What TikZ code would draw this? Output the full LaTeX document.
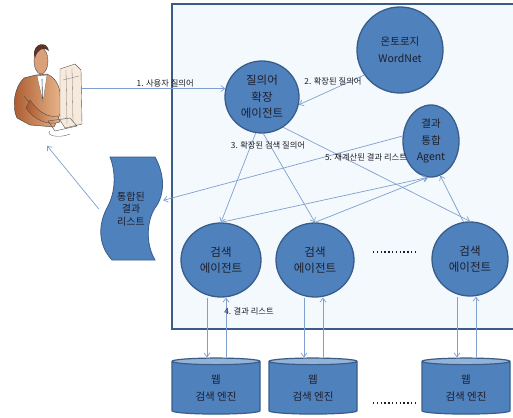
\documentclass[tikz,border=0pt]{standalone}
\usepackage{fontspec}
\setmainfont{Noto Sans CJK KR}
\usepackage{tikz}
\usetikzlibrary{arrows.meta,positioning,shapes.geometric,shapes.symbols}

\definecolor{agentfill}{HTML}{4F81BD}
\definecolor{agentline}{HTML}{385D8A}
\definecolor{endfill}{HTML}{95B3D7}
\definecolor{linkblue}{HTML}{7F9FD0}
\definecolor{panelfill}{HTML}{F4F9FD}
\definecolor{panelline}{HTML}{3B5C87}
\definecolor{jacket}{HTML}{A9582B}
\definecolor{jacketlight}{HTML}{E8B48A}
\definecolor{skin}{HTML}{D9A07A}
\definecolor{hair}{HTML}{5A3426}
\definecolor{screen}{HTML}{F7EADC}
\definecolor{ink}{HTML}{1E1E28}

\tikzset{
  agent/.style={ellipse, draw=agentline, fill=agentfill, line width=1.3pt,
    inner sep=0pt, align=center, text=ink,
    font=\fontsize{11.5}{16.5}\selectfont},
  websearch/.style={cylinder, shape border rotate=90, aspect=0.16,
    minimum width=88pt, minimum height=56pt, inner sep=0pt,
    cylinder uses custom fill, cylinder body fill=agentfill,
    cylinder end fill=endfill, draw=agentline, line width=1.2pt,
    align=center, text=ink, font=\fontsize{10.5}{17}\selectfont},
  link/.style={draw=linkblue, line width=0.7pt,
    -{Straight Barb[length=4pt,width=6pt]}},
  lbl/.style={font=\fontsize{8.3}{10}\selectfont, text=ink, inner sep=1pt},
  dotrow/.style={line width=1.5pt, dash pattern=on 1.4pt off 2.4pt, ink}
}

\begin{document}
\begin{tikzpicture}[x=1pt,y=-1pt]
  \clip (0,0) rectangle (513,417);
  \fill[white] (0,0) rectangle (513,417);

  % Agent platform
  \draw[panelline, fill=panelfill, line width=2pt] (172,4) rectangle (530,329);

  % User at the computer
  \shade[left color=jacket, right color=jacketlight, draw=black!75, line width=0.4pt]
    (24,78) .. controls (15,86) and (11,106) .. (17,118) -- (30,125)
    -- (54,127) -- (61,112) -- (60,92) .. controls (58,81) and (52,76) .. (47,74)
    -- (36,75) -- cycle;
  \fill[white, draw=black!60, line width=0.3pt] (37,76) -- (47,75) -- (43,102) -- cycle;
  \draw[black!70, line width=0.6pt] (42,79) -- (42.5,99);
  \draw[black!70, line width=0.4pt] (24,96) .. controls (30,104) and (36,110) .. (44,114);
  \fill[skin, draw=black!70, line width=0.4pt] (41,61) ellipse (7 and 13);
  \fill[hair] (34,55) .. controls (33,43) and (47,40) .. (49,51)
    .. controls (45,47) and (38,48) .. (35,58) -- cycle;
  \filldraw[fill=screen, draw=black!65, line width=0.4pt]
    (60,69) -- (75,64) -- (81,70) -- (82,124) -- (65,128) -- (60,120) -- cycle;
  \draw[black!55, line width=0.3pt] (66,70) -- (67,124) (72,68) -- (73,122)
    (63,80) -- (79,76);
  \shade[left color=jacket, right color=jacketlight, draw=black!70, line width=0.4pt]
    (30,100) .. controls (38,112) and (48,118) .. (58,116) -- (60,122)
    .. controls (48,126) and (34,120) .. (26,108) -- cycle;
  \draw[black!70, line width=0.4pt] (48,121) -- (70,118) -- (77,126) -- (55,131) -- cycle;
  \draw[black!60, line width=0.4pt] (50,131) .. controls (45,135) and (58,139) .. (70,134);
  \node[inner sep=0pt, minimum width=70pt, minimum height=105pt] (user) at (47,93) {};

  % Query expansion and ontology
  \node[agent, minimum width=74pt, minimum height=72pt] (query) at (262,97)
    {질의어\\확장\\에이전트};
  \node[agent, minimum width=86pt, minimum height=86pt,
    font=\fontsize{10.5}{17}\selectfont] (onto) at (400,50) {온토로지\\WordNet};
  \node[agent, minimum width=56pt, minimum height=72pt,
    font=\fontsize{10.5}{16.5}\selectfont] (merge) at (431,141) {결과\\통합\\Agent};

  % Search agents
  \node[agent, minimum width=80pt, minimum height=74pt] (search1) at (221,260) {검색\\에이전트};
  \node[agent, minimum width=78pt, minimum height=74pt] (search2) at (315,260) {검색\\에이전트};
  \node[agent, minimum width=76pt, minimum height=74pt] (search3) at (470,259) {검색\\에이전트};
  \draw[dotrow] (373,252) -- (416,252);

  % Web search engines
  \node[websearch] (web1) at (216,388) {웹\\검색 엔진};
  \node[websearch] (web2) at (313,388) {웹\\검색 엔진};
  \node[websearch] (web3) at (466,388) {웹\\검색 엔진};
  \draw[dotrow] (373,403) -- (416,403);

  % Merged result list
  \fill[agentfill, draw=agentline, line width=0.8pt]
    (110,157) -- (155,157) .. controls (165,175) and (165,195) .. (155,208)
    .. controls (146,222) and (146,245) .. (155,260) -- (112,260)
    .. controls (98,245) and (98,225) .. (107,208)
    .. controls (116,192) and (116,172) .. (110,157) -- cycle;
  \node[inner sep=0pt, minimum width=64pt, minimum height=104pt, align=center,
    text=ink, font=\fontsize{10}{12.5}\selectfont] (result) at (131,209)
    {통합된\\결과\\리스트};

  % Messages
  \draw[link] (query.167 -| user.east) -- (query.167)
    node[lbl, pos=0.58, above] {1. 사용자 질의어};
  \draw[link] (onto.-145) -- (query.-12);
  \node[lbl] (lbl2) at (333,81) {2. 확장된 질의어};
  \draw[link] (query.-100) -- (search1.north);
  \draw[link] (query.-88) -- (search2.north);
  \draw[link] (query.-55) -- (search3.north);
  \node[lbl] (lbl3) at (268,145) {3. 확장된 검색 질의어};
  \draw[link] (search1.north) -- (merge.-95);
  \draw[link] (search2.north) -- (merge.-95);
  \draw[link] (search3.100) -- (merge.-75);
  \draw[link] (merge.170) -- (result.15);
  \node[lbl] (lbl5) at (366,157) {5. 재계산된 결과 리스트};
  \draw[link] (result.west) -- (user.south);

  % Queries down, result lists back up
  \foreach \i in {1,2,3} {
    \coordinate (down\i) at ([xshift=-9pt]web\i.north);
    \coordinate (up\i) at ([xshift=10pt]web\i.north);
    \draw[link] (search\i.south -| down\i) -- (down\i);
    \draw[link] (up\i) -- (search\i.south -| up\i);
  }
  \node[lbl] (lbl4) at (249,311) {4. 결과 리스트};
\end{tikzpicture}
\end{document}
